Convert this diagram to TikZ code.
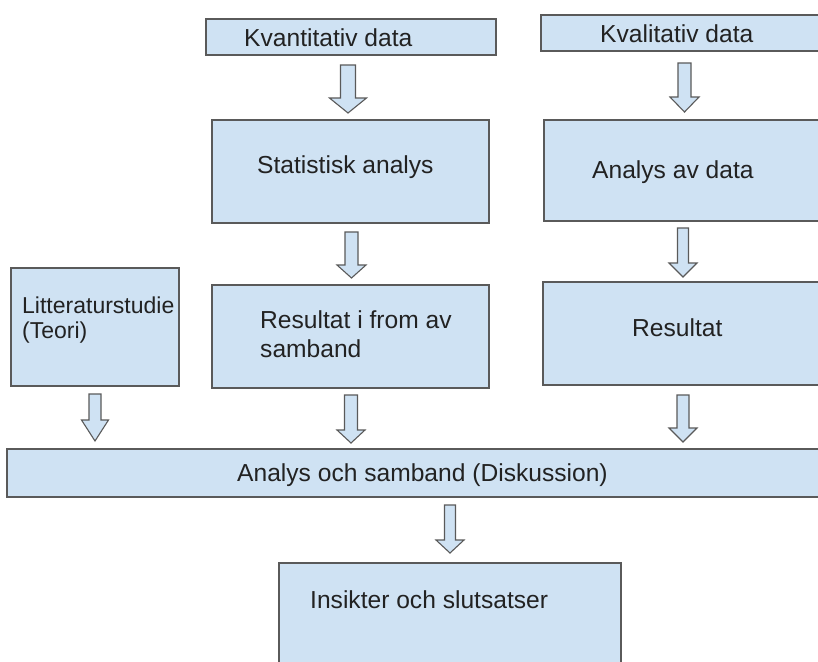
\documentclass[tikz,border=0pt]{standalone}
\usepackage{fontspec}
\setmainfont{Liberation Sans}
\definecolor{boxfill}{HTML}{CFE2F3}
\definecolor{boxline}{HTML}{5A5A5A}
\definecolor{txt}{HTML}{222222}
\tikzset{
 box/.style={draw=boxline, fill=boxfill, line width=1.3pt, inner sep=0pt, outer sep=0pt, anchor=north west},
 lbl/.style={anchor=base west, inner sep=0pt, text=txt, font=\fontsize{24.6}{29}\selectfont},
 smalllbl/.style={lbl, font=\fontsize{23}{27}\selectfont},
 barrow/.style={draw=boxline, fill=boxfill, line width=1.1pt, line join=miter}
}
% cx, top, headstart, tip, shaftwidth, headwidth
\newcommand\blockarr[6]{%
 \draw[barrow] ({#1-#5/2},#2) -- ({#1+#5/2},#2) -- ({#1+#5/2},#3) -- ({#1+#6/2},#3) -- (#1,#4) -- ({#1-#6/2},#3) -- ({#1-#5/2},#3) -- cycle;}
\begin{document}
\begin{tikzpicture}[x=1pt,y=-1pt]
\useasboundingbox[fill=white] (0,0) rectangle (818,661);
\clip (0,0) rectangle (818,661);
% boxes
\node[box, minimum width=290pt, minimum height=36pt] (kvant) at (206,19) {};
\node[box, minimum width=281pt, minimum height=36pt] (kval) at (541,15) {};
\node[box, minimum width=277pt, minimum height=103pt] (stat) at (212,120) {};
\node[box, minimum width=280pt, minimum height=101pt] (anal) at (544,120) {};
\node[box, minimum width=168pt, minimum height=118pt] (litt) at (11,268) {};
\node[box, minimum width=277pt, minimum height=103pt] (resf) at (212,285) {};
\node[box, minimum width=281pt, minimum height=103pt] (res) at (543,282) {};
\node[box, minimum width=817pt, minimum height=48pt] (disk) at (7,449) {};
\node[box, minimum width=342pt, minimum height=102pt] (ins) at (279,563) {};
% labels
\node[lbl] (tkvant) at (244,47) {Kvantitativ data};
\node[lbl] (tkval) at (600,43) {Kvalitativ data};
\node[lbl] (tstat) at (257,173) {Statistisk analys};
\node[lbl] (tanal) at (592,178) {Analys av data};
\node[smalllbl] (tlitta) at (22,313) {Litteraturstudie};
\node[smalllbl] (tlittb) at (22,338) {(Teori)};
\node[lbl] (tresfa) at (260,328) {Resultat i from av};
\node[lbl] (tresfb) at (260,357) {samband};
\node[lbl] (tres) at (632,336) {Resultat};
\node[lbl] (tdisk) at (237,481) {Analys och samband (Diskussion)};
\node[lbl] (tins) at (310,608) {Insikter och slutsatser};
% block arrows
\blockarr{348}{65}{98}{113}{15}{37}
\blockarr{684.5}{63}{97}{112}{13}{29}
\blockarr{351.5}{232}{265}{278}{13}{29}
\blockarr{683}{228}{263}{277}{11}{28}
\blockarr{95}{394}{420}{441}{12}{27}
\blockarr{351}{395}{430}{443}{13}{28}
\blockarr{683}{395}{428}{442}{12}{28}
\blockarr{450}{505}{540}{553}{11}{28}
\end{tikzpicture}
\end{document}
